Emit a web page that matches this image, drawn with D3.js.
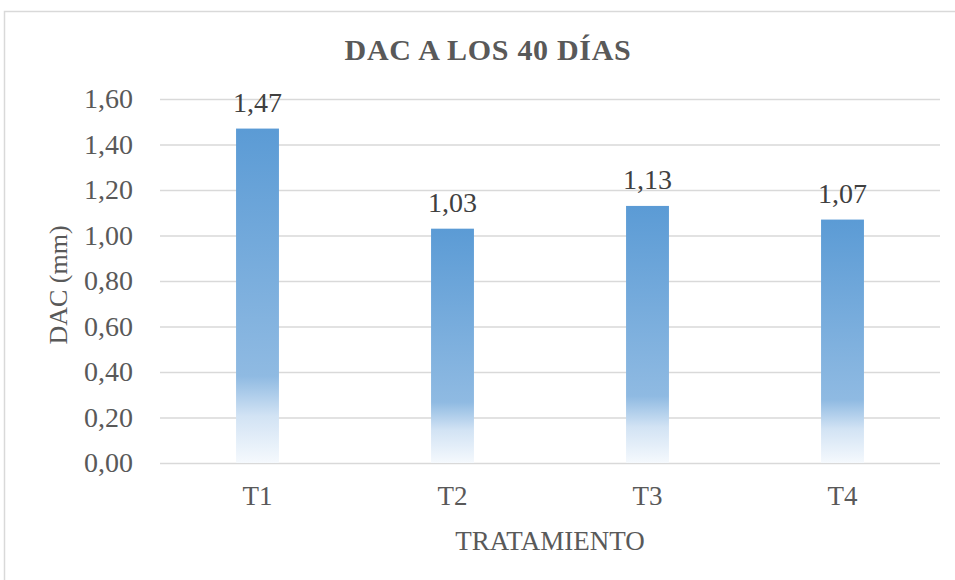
<html>
<head>
<meta charset="utf-8">
<script src="https://d3js.org/d3.v7.min.js"></script>
<style>
  body {margin: 0; background: #fff;}
  text {font-family: 'Liberation Serif', 'Times New Roman', serif; fill: #595959;}
</style>
</head>
<body>
<svg class="chart" width="955" height="580"></svg>
<script>
const categories = ['T1', 'T2', 'T3', 'T4'];
const values = [1.47, 1.03, 1.13, 1.07];
const yTicks = [0, 0.2, 0.4, 0.6, 0.8, 1.0, 1.2, 1.4, 1.6];
const title = 'DAC A LOS 40 DÍAS';
const yTitle = 'DAC (mm)';
const xTitle = 'TRATAMIENTO';

const svg = d3.select('svg');
const plotLeft = 160, plotRight = 940, plotTop = 99, plotBottom = 463;
const comma = v => d3.format('.2f')(v).replace('.', ',');

// chart frame (right/bottom edge run off the page like in the original)
svg.append('rect')
  .attr('x', 4.5).attr('y', 11.5)
  .attr('width', 1000).attr('height', 1000)
  .attr('fill', 'none').attr('stroke', '#d9d9d9').attr('stroke-width', 1.5);

const defs = svg.append('defs');
const grad = defs.append('linearGradient')
  .attr('id', 'barGrad').attr('x1', 0).attr('y1', 0).attr('x2', 0).attr('y2', 1);
grad.append('stop').attr('offset', '0%').attr('stop-color', '#5b9bd5');
grad.append('stop').attr('offset', '74%').attr('stop-color', '#8fbae2');
grad.append('stop').attr('offset', '86%').attr('stop-color', '#d2e3f4');
grad.append('stop').attr('offset', '100%').attr('stop-color', '#f5f9fd');

var x = d3.scaleBand()
  .domain(categories)
  .range([plotLeft, plotRight])
  .paddingInner(0.78)
  .paddingOuter(0.39);
var y = d3.scaleLinear()
  .domain([0, 1.6])
  .range([plotBottom, plotTop]);

// gridlines + tick labels
const yAxis = svg.append('g')
  .attr('transform', 'translate(' + plotLeft + ',0)')
  .call(d3.axisLeft(y).tickValues(yTicks).tickSize(-(plotRight - plotLeft)).tickPadding(27).tickFormat(comma));
yAxis.select('.domain').remove();
yAxis.selectAll('line').attr('stroke', '#d9d9d9').attr('stroke-width', 1.3);
yAxis.selectAll('text').attr('font-size', 28).attr('fill', '#595959')
  .style('font-family', "'Liberation Serif', serif");

// bars
svg.append('g').selectAll('rect')
  .data(values)
  .enter()
  .append('rect')
    .attr('x', (d, i) => x(categories[i]))
    .attr('y', d => y(d))
    .attr('width', x.bandwidth())
    .attr('height', d => y(0) - y(d))
    .attr('fill', 'url(#barGrad)');

// value labels
svg.append('g').selectAll('text')
  .data(values)
  .enter()
  .append('text')
    .attr('x', (d, i) => x(categories[i]) + x.bandwidth() / 2)
    .attr('y', d => y(d) - 17)
    .attr('text-anchor', 'middle')
    .attr('font-size', 28)
    .style('fill', '#404040')
    .text(d => comma(d));

// category axis
const xAxis = svg.append('g')
  .attr('transform', 'translate(0,' + plotBottom + ')')
  .call(d3.axisBottom(x).tickSize(0).tickPadding(23));
xAxis.select('.domain').remove();
xAxis.selectAll('text').attr('font-size', 27).attr('fill', '#595959')
  .style('font-family', "'Liberation Serif', serif");

// titles
svg.append('text')
  .attr('x', (plotLeft + plotRight) / 2 - 62).attr('y', 60)
  .attr('text-anchor', 'middle')
  .attr('font-size', 30).attr('font-weight', 'bold')
  .attr('letter-spacing', 0.7)
  .text(title);

svg.append('text')
  .attr('transform', 'translate(67,285) rotate(-90)')
  .attr('text-anchor', 'middle')
  .attr('font-size', 26)
  .text(yTitle);

svg.append('text')
  .attr('x', (plotLeft + plotRight) / 2).attr('y', 550)
  .attr('text-anchor', 'middle')
  .attr('font-size', 27)
  .text(xTitle);
</script>
</body>
</html>
